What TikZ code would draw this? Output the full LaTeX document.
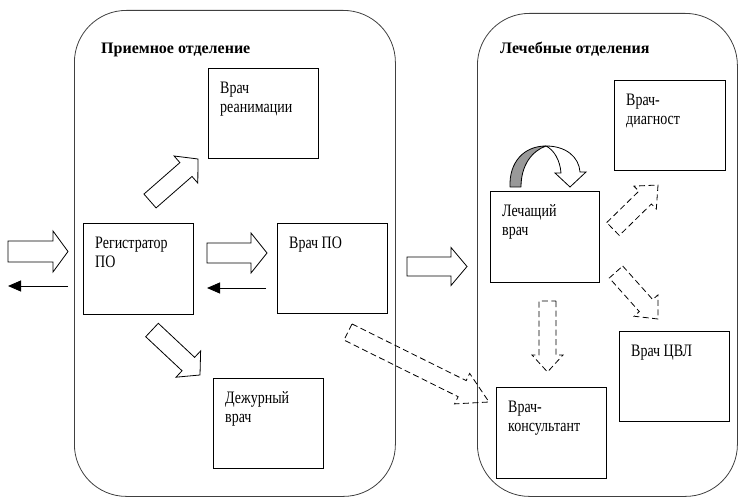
\documentclass[tikz,border=0pt]{standalone}
\usepackage{fontspec}
\setmainfont{Liberation Serif}
\newfontfamily\narrowserif[FakeStretch=0.8]{Liberation Serif}
\usetikzlibrary{calc,arrows.meta}
% block arrow: [style]{start}{tip}{shaft half width}{head half width}{head length}
\newcommand\blockarrow[6][]{%
  \coordinate (bneck) at ($(#3)!#6!(#2)$);
  \draw[#1] ($(#2)!#4!90:(#3)$) -- ($(bneck)!#4!90:(#3)$) -- ($(bneck)!#5!90:(#3)$) -- (#3)
     -- ($(bneck)!#5!-90:(#3)$) -- ($(bneck)!#4!-90:(#3)$) -- ($(#2)!#4!-90:(#3)$) -- cycle;}
\tikzset{
 box/.style={draw=black, line width=0.9pt, rectangle, inner sep=0pt, anchor=north west},
 dept/.style={draw=black!75, line width=0.8pt, rectangle, rounded corners=52pt, inner sep=0pt, anchor=north west},
 txt/.style={anchor=north west, inner sep=0pt, align=left, font=\narrowserif\fontsize{17.5}{19.5}\selectfont},
 ttl/.style={anchor=base west, inner sep=0pt, font=\bfseries\fontsize{16}{18}\selectfont},
 barrow/.style={draw=black, line width=0.8pt, fill=white, line join=miter},
 darrow/.style={draw=black, line width=0.8pt, dash pattern=on 6pt off 3.5pt, line join=miter},
 tarrow/.style={draw=black, line width=0.9pt, -{Triangle[length=13pt,width=11pt]}},
}
\newcommand\boxtext[2]{\node[txt] at ([xshift=12pt]#1.north west) {\rule{0pt}{25pt}#2};}
\begin{document}
\begin{tikzpicture}[x=1pt,y=-1pt]
\useasboundingbox (0,0) rectangle (739,497);
% departments
\node[dept, minimum width=321pt, minimum height=486pt] (left) at (74,10) {};
\node[dept, minimum width=260pt, minimum height=483pt] (right) at (477,13) {};
\node[ttl] (t1) at (101,54) {Приемное отделение};
\node[ttl] (t2) at (500,54) {Лечебные отделения};
% boxes
\node[box, minimum width=110pt, minimum height=90pt] (rean) at (208,68) {};
\node[box, minimum width=110pt, minimum height=91pt] (reg) at (83,223) {};
\node[box, minimum width=110pt, minimum height=90pt] (vpo) at (277,223) {};
\node[box, minimum width=110pt, minimum height=90pt] (dezh) at (213,378) {};
\node[box, minimum width=109pt, minimum height=91pt] (lech) at (490,191) {};
\node[box, minimum width=111pt, minimum height=90pt] (diag) at (614,80) {};
\node[box, minimum width=110pt, minimum height=90pt] (cvl) at (619,331) {};
\node[box, minimum width=110pt, minimum height=91pt] (kons) at (496,387) {};
\boxtext{rean}{Врач\\реанимации}
\boxtext{reg}{Регистратор\\ПО}
\boxtext{vpo}{Врач ПО}
\boxtext{dezh}{Дежурный\\врач}
\boxtext{lech}{Лечащий\\врач}
\boxtext{diag}{Врач-\\диагност}
\boxtext{cvl}{Врач ЦВЛ}
\boxtext{kons}{Врач-\\консультант}
% arrow end points
\coordinate (inS) at (8,251.5);   \coordinate (inE) at (68,251.5);
\coordinate (outS) at (68,286);   \coordinate (outE) at (8,286);
\coordinate (rvS) at (207,253);   \coordinate (rvE) at (267,253);
\coordinate (vrS) at (266,288);   \coordinate (vrE) at (207,288);
\coordinate (vlS) at (407,266.5); \coordinate (vlE) at (467,266.5);
\coordinate (reS) at (150,201);   \coordinate (reE) at (198,159);
\coordinate (deS) at (152,330);   \coordinate (deE) at (200,375);
\coordinate (koS) at (348,332);   \coordinate (koE) at (489,402);
\coordinate (diS) at (613,229);   \coordinate (diE) at (658,185);
\coordinate (cvS) at (616,272);   \coordinate (cvE) at (658,319);
\coordinate (dnS) at (547.5,301); \coordinate (dnE) at (547.5,372);
% solid block arrows
\blockarrow[barrow]{inS}{inE}{10.5pt}{20.5pt}{15pt}
\blockarrow[barrow]{rvS}{rvE}{10pt}{20pt}{16pt}
\blockarrow[barrow]{vlS}{vlE}{9.5pt}{19pt}{16pt}
\blockarrow[barrow]{reS}{reE}{9.2pt}{18pt}{16pt}
\blockarrow[barrow]{deS}{deE}{9.2pt}{18pt}{16pt}
% dashed block arrows
\blockarrow[darrow]{koS}{koE}{9pt}{17pt}{30pt}
\blockarrow[darrow]{diS}{diE}{9pt}{16pt}{18pt}
\blockarrow[darrow]{cvS}{cvE}{9pt}{16pt}{18pt}
\blockarrow[darrow]{dnS}{dnE}{8.5pt}{15.5pt}{17pt}
% thin return arrows
\draw[tarrow] (outS) -- (outE);
\draw[tarrow] (vrS) -- (vrE);
% curved arrow above Лечащий врач
\draw[line width=0.8pt, fill=black!40, line join=round]
  (510,187) .. controls (509,162) and (524,146) .. (546,146)
  .. controls (532,151) and (521,165) .. (521,187) -- cycle;
\draw[line width=0.8pt, fill=white, line join=miter]
  (546,146) .. controls (566,146) and (579,157) .. (580,172) -- (586,172) -- (570,187)
  -- (555,173) -- (561,173) .. controls (560,160) and (554,150) .. (546,146) -- cycle;
\end{tikzpicture}
\end{document}
